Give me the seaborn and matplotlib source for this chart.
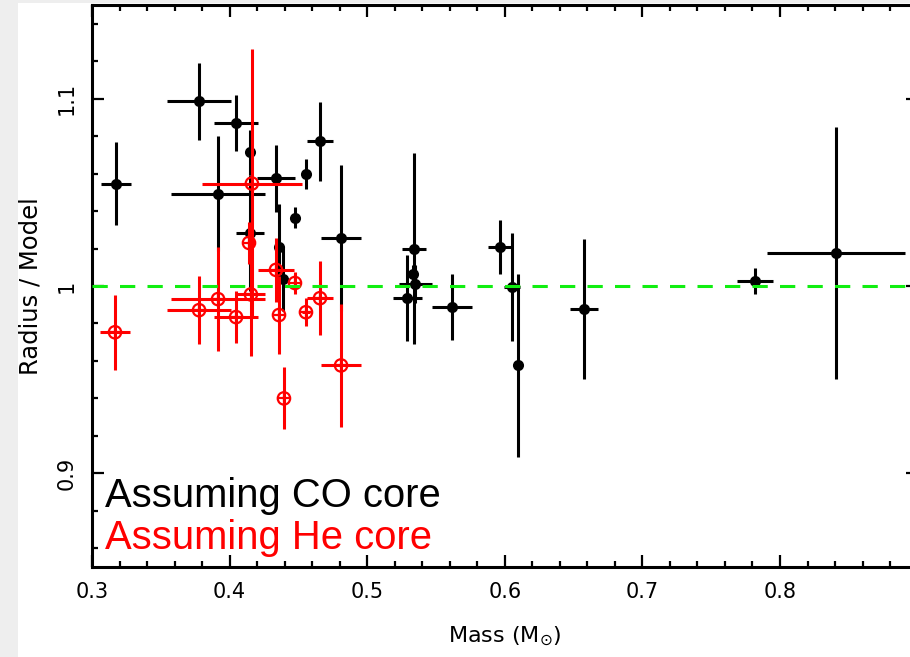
import numpy as np
import pandas as pd
import matplotlib
matplotlib.use("Agg")
import matplotlib.pyplot as plt
import seaborn as sns
from matplotlib.ticker import MultipleLocator, FixedLocator, FixedFormatter

# ---- data ----
co_mass = [0.3174, 0.3778, 0.4047, 0.4148, 0.4148, 0.3916, 0.4337, 0.4359, 0.4388,
           0.4657, 0.4555, 0.4475, 0.4810, 0.5340, 0.5290, 0.5335, 0.5350, 0.5616,
           0.5965, 0.6052, 0.6096, 0.6576, 0.7818, 0.8407]
co_mass_err = [0.011, 0.0234, 0.016, 0.0, 0.010, 0.034, 0.0138, 0.0, 0.0,
               0.0094, 0.0, 0.0, 0.0145, 0.009, 0.0105, 0.0, 0.012, 0.0145,
               0.009, 0.006, 0.0, 0.010, 0.013, 0.0505]
co_ratio = [1.0547, 1.0987, 1.0869, 1.0713, 1.0284, 1.0493, 1.0574, 1.0209, 1.0038,
            1.0772, 1.0600, 1.0365, 1.0257, 1.0198, 0.9936, 1.0064, 1.0010, 0.9887,
            1.0209, 0.9995, 0.9576, 0.9877, 1.0027, 1.0177]
co_ratio_err = [0.022, 0.0206, 0.015, 0.012, 0.031, 0.0306, 0.0177, 0.023, 0.017,
                0.0212, 0.008, 0.0056, 0.039, 0.051, 0.023, 0.005, 0.010, 0.0177,
                0.0145, 0.029, 0.049, 0.0375, 0.007, 0.0673]

he_mass = [0.3167, 0.3778, 0.3916, 0.4047, 0.4155, 0.4162, 0.4141, 0.4337, 0.4359,
           0.4395, 0.4475, 0.4555, 0.4657, 0.4810]
he_mass_err = [0.011, 0.0234, 0.034, 0.016, 0.010, 0.0363, 0.0, 0.0133, 0.0,
               0.0, 0.0, 0.003, 0.0097, 0.0145]
he_ratio = [0.9753, 0.9871, 0.9930, 0.9834, 0.9955, 1.0547, 1.0230, 1.0086, 0.9845,
            0.9400, 1.0016, 0.9860, 0.9935, 0.9576]
he_ratio_err = [0.020, 0.018, 0.0276, 0.0137, 0.0327, 0.072, 0.011, 0.017, 0.021,
                0.0166, 0.006, 0.0075, 0.0198, 0.033]

x_ticks = [0.3, 0.4, 0.5, 0.6, 0.7, 0.8, 0.9]
x_tick_labels = ["0.3", "0.4", "0.5", "0.6", "0.7", "0.8", ""]
y_ticks = [0.9, 1.0, 1.1]
y_tick_labels = ["0.9", "1", "1.1"]
label_co = "Assuming CO core"
label_he = "Assuming He core"

co = pd.DataFrame({"mass": co_mass, "mass_err": co_mass_err,
                   "ratio": co_ratio, "ratio_err": co_ratio_err})
he = pd.DataFrame({"mass": he_mass, "mass_err": he_mass_err,
                   "ratio": he_ratio, "ratio_err": he_ratio_err})

sns.set_style("ticks")
plt.rcParams['font.family'] = ['DejaVu Sans']
plt.rcParams['text.color'] = 'black'
plt.rcParams['axes.labelcolor'] = 'black'
plt.rcParams['xtick.color'] = 'black'
plt.rcParams['ytick.color'] = 'black'

W, H = 910, 657
fig = plt.figure(figsize=(W / 100, H / 100), dpi=100)
fig.patch.set_facecolor("white")
fig.patches.append(plt.Rectangle((0, 0), 18 / W, 1, transform=fig.transFigure,
                                 facecolor="#eeeeee", edgecolor="none", zorder=-10))
fig.patches.append(plt.Rectangle((0, 1 - 3 / H), 1, 3 / H, transform=fig.transFigure,
                                 facecolor="#eeeeee", edgecolor="none", zorder=-10))

ax = fig.add_axes([92 / W, 90 / H, 825.6 / W, 562 / H])

# error bars
ax.errorbar(co["mass"], co["ratio"], xerr=co["mass_err"], yerr=co["ratio_err"],
            fmt="none", ecolor="black", elinewidth=2.2, capsize=0, zorder=2)
ax.errorbar(he["mass"], he["ratio"], xerr=he["mass_err"], yerr=he["ratio_err"],
            fmt="none", ecolor="red", elinewidth=2.2, capsize=0, zorder=3)

# markers
sns.scatterplot(data=co, x="mass", y="ratio", ax=ax, color="black", s=64,
                marker="o", linewidth=0, zorder=2.5, legend=False)
sns.scatterplot(data=he, x="mass", y="ratio", ax=ax, s=80, marker="o",
                facecolors="none", edgecolor="red", linewidth=1.6, zorder=3.5,
                legend=False)
sns.scatterplot(data=he, x="mass", y="ratio", ax=ax, s=75, marker="+",
                color="red", linewidth=1.6, zorder=3.6, legend=False)

ax.axhline(1.0, color="#11ee11", lw=2.2, dashes=(5, 4), zorder=5)

ax.set_xlim(0.3, 0.9)
ax.set_ylim(0.85, 1.15)
ax.xaxis.set_major_locator(FixedLocator(x_ticks))
ax.xaxis.set_major_formatter(FixedFormatter(x_tick_labels))
ax.xaxis.set_minor_locator(MultipleLocator(0.02))
ax.yaxis.set_major_locator(FixedLocator(y_ticks))
ax.yaxis.set_major_formatter(FixedFormatter(y_tick_labels))
ax.yaxis.set_minor_locator(MultipleLocator(0.02))

ax.tick_params(which="both", direction="in", top=True, right=True, width=1.6,
               labelsize=15, colors="black", labelcolor="black")
ax.tick_params(which="major", length=8.5)
ax.tick_params(which="minor", length=4.5)
ax.tick_params(axis="x", which="major", pad=11)
ax.tick_params(axis="y", which="major", pad=11)
for lab in ax.get_yticklabels():
    lab.set_rotation(90)
    lab.set_va("center")

for sp in ax.spines.values():
    sp.set_linewidth(2.2)
    sp.set_color("black")

ax.set_xlabel(r"Mass (M$_{\odot}$)", fontsize=16, labelpad=16, color="black")
ax.set_ylabel("Radius / Model", fontsize=17.5, labelpad=10, color="black")

ax.text(0.3095, 0.882, label_co, fontsize=28.8, color="black",
        family=["Liberation Sans", "DejaVu Sans"], va="baseline", ha="left")
ax.text(0.3095, 0.8595, label_he, fontsize=28.8, color="red",
        family=["Liberation Sans", "DejaVu Sans"], va="baseline", ha="left")

fig.savefig("out.png", dpi=100, facecolor="white")
